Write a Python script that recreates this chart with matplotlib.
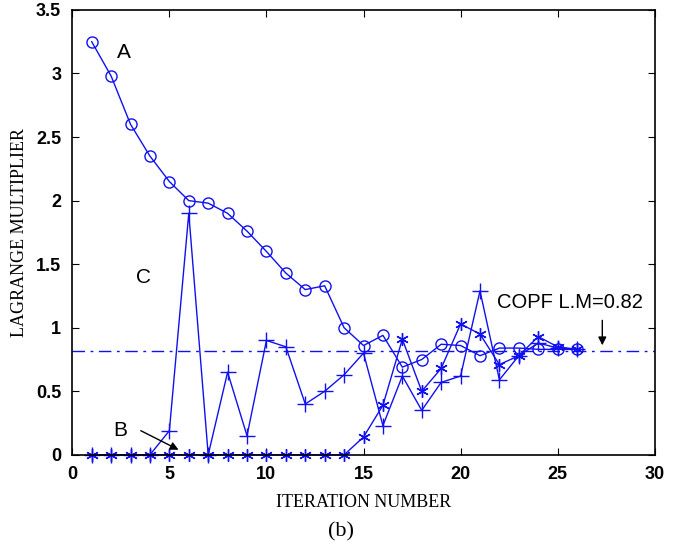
import numpy as np
import matplotlib.pyplot as plt

iters = np.arange(1, 27)

lm_a = [3.25, 2.98, 2.6, 2.35, 2.15, 2.0, 1.98, 1.9, 1.76, 1.6, 1.43, 1.3, 1.33,
        1.0, 0.86, 0.94, 0.69, 0.75, 0.87, 0.86, 0.78, 0.84, 0.84, 0.83, 0.83, 0.83]
lm_b = [0, 0, 0, 0, 0, 0, 0, 0, 0, 0, 0, 0, 0, 0,
        0.14, 0.39, 0.91, 0.5, 0.68, 1.03, 0.95, 0.71, 0.78, 0.93, 0.85, 0.83]
lm_c = [0, 0, 0, 0, 0.19, 1.9, 0, 0.65, 0.15, 0.9, 0.85, 0.4, 0.5,
        0.63, 0.8, 0.23, 0.62, 0.35, 0.57, 0.62, 1.29, 0.59, 0.78, 0.88, 0.84, 0.83]
copf_lm = 0.82

blue = '#1010f0'

fig = plt.figure(figsize=(6.82, 5.52), dpi=100)
ax = fig.add_axes([0.106, 0.176, 0.854, 0.806])

ax.plot(iters, lm_a, color=blue, lw=1, marker='o', ms=8, mfc='none', mew=1, clip_on=False)
ax.plot(iters, lm_c, color=blue, lw=1, marker='+', ms=11, mew=1, clip_on=False)
ax.plot(iters, lm_b, color=blue, lw=1, marker=(6, 2, 0), ms=9, mew=1, clip_on=False)
ax.plot([0, 30], [copf_lm, copf_lm], color=blue, lw=1, ls=(0, (9, 4, 2, 4)))

ax.text(2.3, 3.12, 'A', fontsize=15, family='Liberation Sans')
ax.text(3.3, 1.35, 'C', fontsize=15, family='Liberation Sans')
ax.text(2.1, 0.15, 'B', fontsize=15, family='Liberation Sans')
ax.annotate('', xy=(5.6, 0.03), xytext=(3.4, 0.2),
            arrowprops=dict(arrowstyle='-|>', color='black', lw=1, mutation_scale=12))
ax.text(21.9, 1.2, 'COPF L.M=0.82', fontsize=14.5, family='Liberation Sans', va='center')
ax.annotate('', xy=(27.3, 0.84), xytext=(27.3, 1.08),
            arrowprops=dict(arrowstyle='-|>', color='black', lw=1, mutation_scale=12))

ax.set_xlim(0, 30)
ax.set_ylim(0, 3.5)
ax.set_xticks(range(0, 31, 5))
ax.set_yticks(np.arange(0, 3.51, 0.5))
ax.set_yticklabels(['0', '0.5', '1', '1.5', '2', '2.5', '3', '3.5'])
ax.tick_params(direction='in', top=True, right=True, length=5, pad=8)
for lab in ax.get_xticklabels() + ax.get_yticklabels():
    lab.set_family('Liberation Sans')
    lab.set_fontsize(13)
    lab.set_fontweight('bold')
for sp in ax.spines.values():
    sp.set_linewidth(1.2)

ax.set_xlabel('ITERATION NUMBER', family='Liberation Serif', fontsize=13, labelpad=8)
ax.set_ylabel('LAGRANGE MULTIPLIER', family='Liberation Serif', fontsize=13, labelpad=6)
fig.text(0.5, 0.028, '(b)', family='Liberation Serif', fontsize=16, ha='center')

fig.savefig('out.png', dpi=100)
